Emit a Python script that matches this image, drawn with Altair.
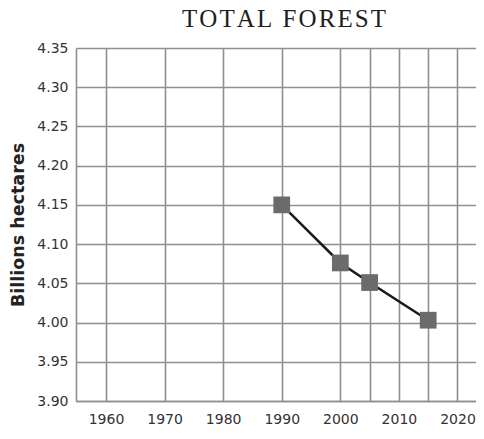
import altair as alt
import pandas as pd

years = [1990, 2000, 2005, 2015]
forest = [4.150, 4.076, 4.051, 4.003]

x_grid = [1960, 1970, 1980, 1990, 2000, 2005, 2010, 2015, 2020]
y_ticks = [3.90, 3.95, 4.00, 4.05, 4.10, 4.15, 4.20, 4.25, 4.30, 4.35]
title_text = "TOTAL FOREST"

df = pd.DataFrame({"year": years, "forest": forest})
title_df = pd.DataFrame({"t": ["\u200a".join(title_text)]})

GRID = "#8f8f8f"
LABEL_FONT = "DejaVu Sans"

x_enc = alt.X(
    "year:Q",
    scale=alt.Scale(domain=[1954.88, 2023.16], nice=False, zero=False),
    axis=alt.Axis(
        values=x_grid,
        labelExpr="datum.value % 10 == 0 ? datum.value : ''",
        labelOverlap=False,
        title=None,
        grid=True,
        gridColor=GRID,
        gridWidth=1.6,
        ticks=False,
        domain=True,
        domainColor=GRID,
        domainWidth=1.6,
        labelFont=LABEL_FONT,
        labelFontSize=14,
        labelColor="#333333",
        labelPadding=11,
    ),
)
y_enc = alt.Y(
    "forest:Q",
    scale=alt.Scale(domain=[3.90, 4.35], nice=False, zero=False),
    axis=alt.Axis(
        values=y_ticks,
        format=".2f",
        labelOverlap=False,
        title="Billions hectares",
        titleFont=LABEL_FONT,
        titleFontSize=17.5,
        titleFontWeight="bold",
        titleColor="#222222",
        titleAngle=270,
        titleAlign="center",
        titleBaseline="middle",
        titleX=-58,
        titleY=176.5,
        grid=True,
        gridColor=GRID,
        gridWidth=1.6,
        ticks=False,
        domain=True,
        domainColor=GRID,
        domainWidth=1.6,
        labelFont=LABEL_FONT,
        labelFontSize=14,
        labelColor="#333333",
        labelPadding=8,
    ),
)

base = alt.Chart(df).encode(x=x_enc, y=y_enc)
line = base.mark_line(color="#1a1a1a", strokeWidth=2.5)
pts = base.mark_point(shape="square", filled=True, size=280, color="#6b6b6b", opacity=1)

title = alt.Chart(title_df).mark_text(
    font="Liberation Serif",
    fontSize=25,
    color="#1e1e1e",
    align="center",
    baseline="alphabetic",
).encode(text="t:N", x=alt.value(208), y=alt.value(-21))

chart = (
    alt.layer(line, pts, title)
    .properties(
        width=400,
        height=353,
        autosize=alt.AutoSizeParams(type="none"),
        padding={"left": 68, "top": 40, "right": 0, "bottom": 25},
    )
    .configure_view(stroke=None)
)

chart.save("out.html", embed_options={"renderer": "svg", "actions": False})
